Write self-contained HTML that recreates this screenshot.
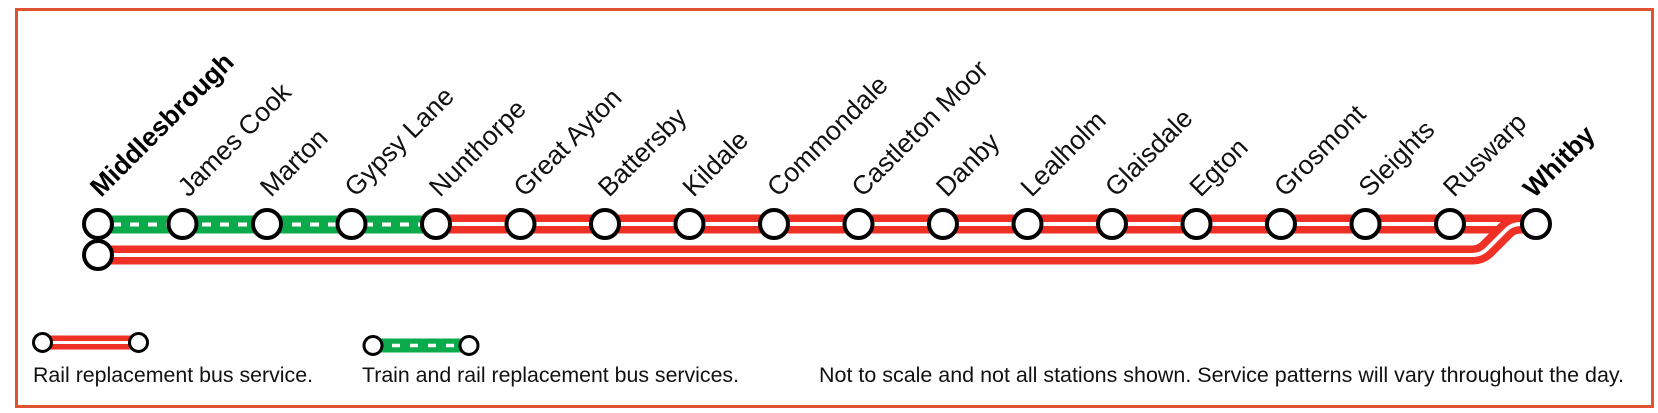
<!DOCTYPE html>
<html>
<head>
<meta charset="utf-8">
<style>
  html,body{margin:0;padding:0;background:#fff;}
  svg{display:block;}
  .lbl{font-family:"Liberation Sans",Arial,sans-serif;font-size:26.5px;fill:#111;}
  .b{font-weight:bold;fill:#000;}
  .leg{font-family:"Liberation Sans",Arial,sans-serif;font-size:21px;fill:#111;}
</style>
</head>
<body>
<svg width="1658" height="413" viewBox="0 0 1658 413" xmlns="http://www.w3.org/2000/svg">
  <rect x="0" y="0" width="1658" height="413" fill="#fff"/>
  <!-- frame -->
  <rect x="16.5" y="9.5" width="1636" height="397" fill="none" stroke="#DF5334" stroke-width="3"/>

  <!-- upper track: green section -->
  <line x1="98" y1="224.5" x2="437" y2="224.5" stroke="#0BAB4B" stroke-width="18"/>
  <line x1="112" y1="224.5" x2="430" y2="224.5" stroke="#fff" stroke-width="4" stroke-dasharray="9 9"/>

  <!-- upper track: red section -->
  <line x1="436" y1="224" x2="1535" y2="224" stroke="#EE3124" stroke-width="19"/>
  <line x1="436" y1="224" x2="1535" y2="224" stroke="#fff" stroke-width="4"/>

  <!-- lower track -->
  <path d="M98 255 L1472 255 Q1481 255 1487 249 L1506 230 Q1512 224 1521 224 L1535 224" fill="none" stroke="#EE3124" stroke-width="19"/>
  <path d="M98 255 L1472 255 Q1481 255 1487 249 L1506 230 Q1512 224 1521 224 L1535 224" fill="none" stroke="#fff" stroke-width="4"/>

  <!-- stations -->
  <g fill="#fff" stroke="#000" stroke-width="4">
    <circle cx="98" cy="255" r="14"/>
    <circle cx="98" cy="224" r="14"/>
    <circle cx="182.5" cy="224" r="14"/>
    <circle cx="267" cy="224" r="14"/>
    <circle cx="351.5" cy="224" r="14"/>
    <circle cx="436" cy="224" r="14"/>
    <circle cx="520.5" cy="224" r="14"/>
    <circle cx="605" cy="224" r="14"/>
    <circle cx="689.5" cy="224" r="14"/>
    <circle cx="774" cy="224" r="14"/>
    <circle cx="858.5" cy="224" r="14"/>
    <circle cx="943" cy="224" r="14"/>
    <circle cx="1027.5" cy="224" r="14"/>
    <circle cx="1112" cy="224" r="14"/>
    <circle cx="1196.5" cy="224" r="14"/>
    <circle cx="1281" cy="224" r="14"/>
    <circle cx="1365.5" cy="224" r="14"/>
    <circle cx="1450" cy="224" r="14"/>
    <circle cx="1536" cy="224" r="14"/>
  </g>

  <!-- labels -->
  <text class="lbl b" transform="translate(101,198) rotate(-45)">Middlesbrough</text>
  <text class="lbl" transform="translate(188.5,198) rotate(-45)">James Cook</text>
  <text class="lbl" transform="translate(271,198) rotate(-45)">Marton</text>
  <text class="lbl" transform="translate(355.5,198) rotate(-45)">Gypsy Lane</text>
  <text class="lbl" transform="translate(440,198) rotate(-45)">Nunthorpe</text>
  <text class="lbl" transform="translate(524.5,198) rotate(-45)">Great Ayton</text>
  <text class="lbl" transform="translate(609,198) rotate(-45)">Battersby</text>
  <text class="lbl" transform="translate(693.5,198) rotate(-45)">Kildale</text>
  <text class="lbl" transform="translate(778,198) rotate(-45)">Commondale</text>
  <text class="lbl" transform="translate(862.5,198) rotate(-45)">Castleton Moor</text>
  <text class="lbl" transform="translate(947,198) rotate(-45)">Danby</text>
  <text class="lbl" transform="translate(1031.5,198) rotate(-45)">Lealholm</text>
  <text class="lbl" transform="translate(1116,198) rotate(-45)">Glaisdale</text>
  <text class="lbl" transform="translate(1200.5,198) rotate(-45)">Egton</text>
  <text class="lbl" transform="translate(1285,198) rotate(-45)">Grosmont</text>
  <text class="lbl" transform="translate(1369.5,198) rotate(-45)">Sleights</text>
  <text class="lbl" transform="translate(1454,198) rotate(-45)">Ruswarp</text>
  <text class="lbl b" transform="translate(1534,199) rotate(-45)">Whitby</text>

  <!-- legend: red -->
  <line x1="43" y1="342.5" x2="138.5" y2="342.5" stroke="#EE3124" stroke-width="14"/>
  <line x1="43" y1="342.5" x2="138.5" y2="342.5" stroke="#fff" stroke-width="3"/>
  <g fill="#fff" stroke="#000" stroke-width="3">
    <circle cx="42.5" cy="342.5" r="9"/>
    <circle cx="138.5" cy="342.5" r="9"/>
  </g>
  <text class="leg" x="33" y="382" textLength="280" lengthAdjust="spacingAndGlyphs">Rail replacement bus service.</text>

  <!-- legend: green -->
  <line x1="373" y1="345.5" x2="469" y2="345.5" stroke="#0BAB4B" stroke-width="14"/>
  <line x1="392" y1="345.5" x2="455" y2="345.5" stroke="#fff" stroke-width="3.5" stroke-dasharray="8 10"/>
  <g fill="#fff" stroke="#000" stroke-width="3">
    <circle cx="373" cy="345.5" r="9"/>
    <circle cx="469" cy="345.5" r="9"/>
  </g>
  <text class="leg" x="362" y="382" textLength="377" lengthAdjust="spacingAndGlyphs">Train and rail replacement bus services.</text>

  <text class="leg" x="819" y="382" textLength="805" lengthAdjust="spacingAndGlyphs">Not to scale and not all stations shown. Service patterns will vary throughout the day.</text>
</svg>
</body>
</html>
